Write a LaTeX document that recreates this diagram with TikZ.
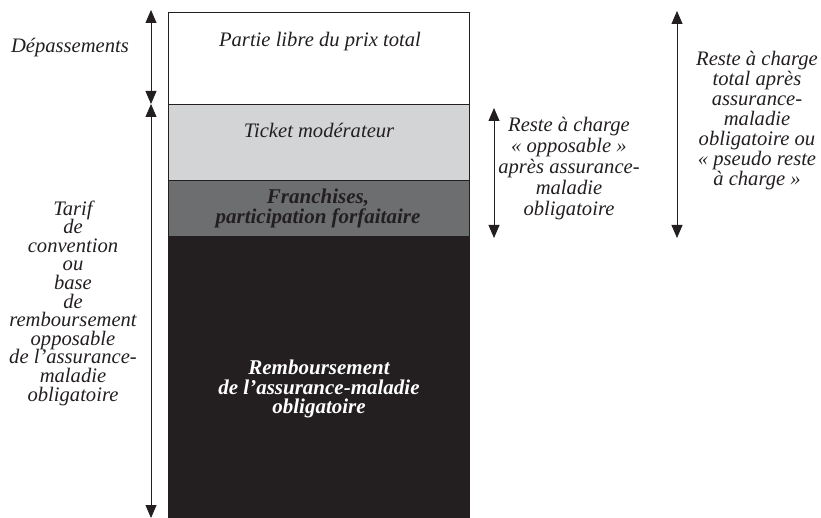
\documentclass[tikz,border=0pt]{standalone}
\usepackage{fontspec}
\setmainfont{Liberation Serif}
\usetikzlibrary{arrows.meta}
\definecolor{lightg}{HTML}{D3D4D6}
\definecolor{midg}{HTML}{6D6E70}
\definecolor{darkk}{HTML}{231F20}
\lineskiplimit=-30pt
\begin{document}
\begin{tikzpicture}[x=1pt,y=-1pt,
  band/.style={draw=darkk, line width=0.8pt, anchor=north west, minimum width=301pt, inner sep=0pt, outer sep=0pt},
  lbl/.style={align=center, inner sep=0pt, font=\fontsize{20.6}{20}\selectfont\itshape, text=darkk},
  blbl/.style={lbl, font=\fontsize{21}{20}\selectfont\bfseries\itshape},
  dim/.style={draw=darkk, line width=0.8pt, {Triangle[length=13pt,width=11pt]}-{Triangle[length=13pt,width=11pt]}}
]
\useasboundingbox (0,0) rectangle (821,518);
% bands
\node[band, fill=white, minimum height=92pt] (libre) at (168,12) {};
\node[band, fill=lightg, minimum height=76pt] (ticket) at (168,104) {};
\node[band, fill=midg, minimum height=56pt] (franch) at (168,180) {};
\node[band, fill=darkk, minimum height=284pt] (remb) at (168,236) {};
% band texts
\node[lbl] (tlibre) at (320,42) {Partie libre du prix total};
\node[lbl] (tticket) at (319,130) {Ticket modérateur};
\node[blbl] (tfranch) at (318,208) {Franchises,\\participation forfaitaire};
\node[blbl, text=white, font=\fontsize{21}{19.5}\selectfont\bfseries\itshape] (tremb) at (319,389) {Remboursement\\de l’assurance-maladie\\obligatoire};
% side texts
\node[lbl] (tdep) at (70,48) {Dépassements};
\node[lbl, font=\fontsize{20.6}{18.6}\selectfont\itshape] (ttarif) at (73,303) {Tarif\\de\\convention\\ou\\base\\de\\remboursement\\opposable\\de l’assurance-\\maladie\\obligatoire};
\node[lbl, font=\fontsize{20.6}{21}\selectfont\itshape] (tropp) at (569,169) {Reste à charge\\« opposable »\\après assurance-\\maladie\\obligatoire};
\node[lbl] (trtot) at (757,121) {Reste à charge\\total après\\assurance-\\maladie\\obligatoire ou\\« pseudo reste\\à charge »};
% arrow end points
\coordinate (d1t) at (151,10);
\coordinate (d1b) at (151,104);
\coordinate (d2t) at (151,104);
\coordinate (d2b) at (151,518);
\coordinate (d3t) at (494,108);
\coordinate (d3b) at (494,238);
\coordinate (d4t) at (677,11);
\coordinate (d4b) at (677,238);
\draw[dim] (d1t) -- (d1b);
\draw[dim] (d2t) -- (d2b);
\draw[dim] (d3t) -- (d3b);
\draw[dim] (d4t) -- (d4b);
\end{tikzpicture}
\end{document}
